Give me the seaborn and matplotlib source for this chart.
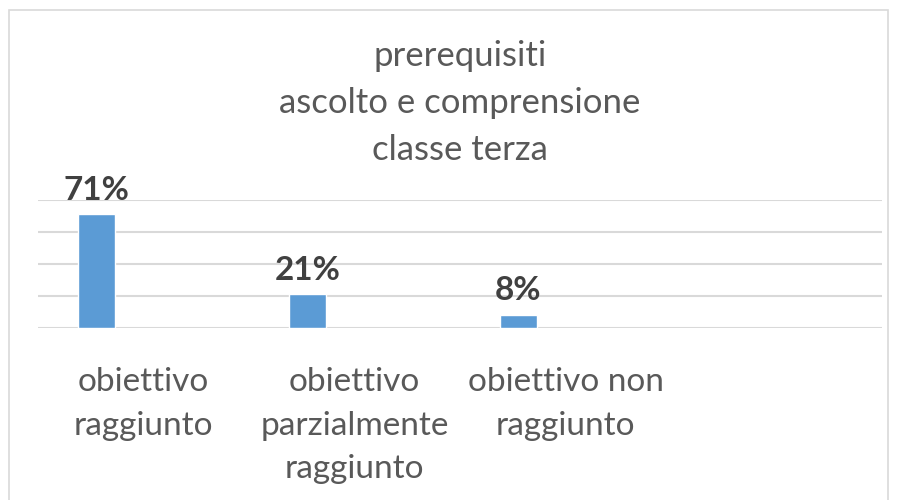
import numpy as np
import pandas as pd
import seaborn as sns
import matplotlib
matplotlib.use('Agg')
import matplotlib.pyplot as plt
from matplotlib.patches import Rectangle

categories = ['obiettivo\nraggiunto', 'obiettivo\nparzialmente\nraggiunto', 'obiettivo non\nraggiunto', '']
series_names = ['Serie1', 'Serie2', 'Serie3']
serie1 = [0.71, 0.21, 0.08, np.nan]
serie2 = [np.nan, np.nan, np.nan, np.nan]
serie3 = [np.nan, np.nan, np.nan, np.nan]
title_lines = ['prerequisiti', 'ascolto e comprensione', 'classe terza']

sns.set_theme(style='white')
plt.rcParams['font.family'] = ['Lato', 'DejaVu Sans']

data = pd.DataFrame({'Categoria': categories * 3,
                     'Serie': np.repeat(series_names, len(categories)),
                     'Valore': serie1 + serie2 + serie3})

fig = plt.figure(figsize=(8.98, 5.0), dpi=100)
ax = fig.add_axes([38 / 898, 1 - 328 / 500, 844 / 898, 128 / 500])

g = sns.barplot(data=data, x='Categoria', y='Valore', hue='Serie', hue_order=series_names,
                order=categories, palette=['#5b9bd5'] * 3, width=0.67, gap=0.21,
                saturation=1, legend=False, ax=ax, errorbar=None)

ax.set_ylim(0, 0.8)
ax.set_xlim(-0.5, len(categories) - 0.5)
ax.set_yticks(np.arange(0, 0.81, 0.2))
ax.set_yticklabels([])
ax.yaxis.grid(True, color='#d9d9d9', linewidth=1.5)
ax.set_axisbelow(True)
for s in ax.spines.values():
    s.set_visible(False)
ax.set_xlabel('')
ax.set_ylabel('')
ax.tick_params(axis='x', length=0, pad=28, labelsize=24, labelcolor='#595959')
for lbl in ax.get_xticklabels():
    lbl.set_linespacing(1.57)

for p in ax.patches:
    h = p.get_height()
    if np.isnan(h) or h == 0:
        continue
    ax.annotate(f'{h:.0%}', (p.get_x() + p.get_width() / 2, h), xytext=(0, 7),
                textcoords='offset points', ha='center', va='bottom',
                fontsize=24, fontweight='bold', color='#404040', annotation_clip=False)

fig.text(0.5123, 1 - 103 / 500, '\n'.join(title_lines), ha='center', va='center',
         fontsize=25, color='#595959', linespacing=1.57)

fig.patches.append(Rectangle((9 / 898, -0.01), 879 / 898, 1 - 10 / 500 + 0.01,
                             transform=fig.transFigure, fill=False,
                             edgecolor='#d9d9d9', linewidth=1.2))

fig.savefig('out.png', dpi=100)
